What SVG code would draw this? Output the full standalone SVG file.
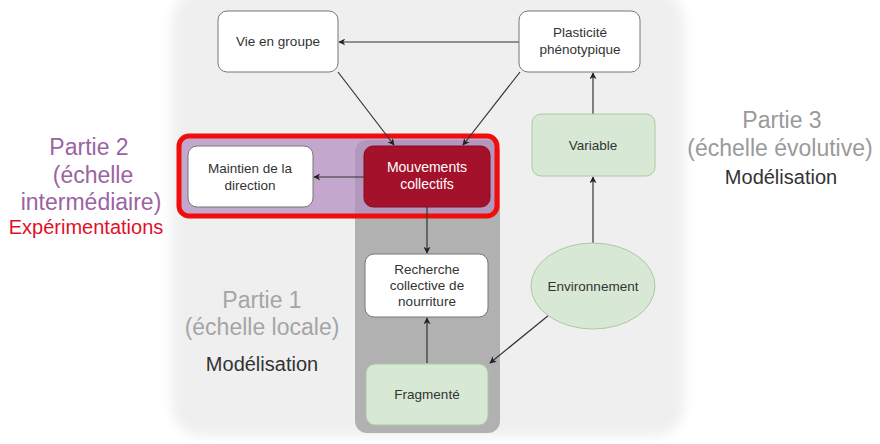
<svg xmlns="http://www.w3.org/2000/svg" width="880" height="444" viewBox="0 0 880 444">
  <defs>
    <filter id="soft" x="-10%" y="-10%" width="120%" height="120%">
      <feGaussianBlur stdDeviation="6"/>
    </filter>
    <marker id="arrow" viewBox="0 0 10 10" refX="9" refY="5" markerWidth="7" markerHeight="7" orient="auto-start-reverse" markerUnits="userSpaceOnUse">
      <path d="M0,0 L10,5 L0,10 L3,5 Z" fill="#222"/>
    </marker>
    <style>
      .box { fill: #ffffff; stroke: #777777; stroke-width: 1; }
      .green { fill: #d7e9d4; stroke: #acc9a2; stroke-width: 1; }
      .red { fill: #a3112b; stroke: #8a0c22; stroke-width: 1; }
      .lbl { font-family: "Liberation Sans", Arial, sans-serif; font-size: 13.5px; fill: #333333; text-anchor: middle; }
      .lblw { font-family: "Liberation Sans", Arial, sans-serif; font-size: 14px; fill: #ffffff; text-anchor: middle; }
      .edge { stroke: #333333; stroke-width: 1.2; fill: none; marker-end: url(#arrow); }
      .part { font-family: "Liberation Sans", Arial, sans-serif; font-size: 23px; text-anchor: middle; }
      .method { font-family: "Liberation Sans", Arial, sans-serif; font-size: 20px; text-anchor: middle; }
    </style>
  </defs>

  <rect width="880" height="444" fill="#ffffff"/>

  <!-- soft backdrop panel -->
  <rect x="172" y="-10" width="512" height="446" rx="30" fill="#efefef" filter="url(#soft)"/>

  <!-- scale bands -->
  <rect id="band-local" x="355" y="140" width="145" height="293" rx="12" fill="#b1b1b1"/>
  <rect id="band-inter" x="179" y="136" width="318" height="80" rx="10" fill="#b48fc0" fill-opacity="0.75" stroke="#f20d0d" stroke-width="5"/>

  <!-- side captions -->
  <g id="caption-partie2">
    <text class="part" x="89" y="155" fill="#9b63a3">Partie 2</text>
    <text class="part" x="93" y="183" fill="#9b63a3">(échelle</text>
    <text class="part" x="91" y="210" fill="#9b63a3">intermédiaire)</text>
    <text class="method" x="86" y="234" fill="#e0102a">Expérimentations</text>
  </g>
  <g id="caption-partie3">
    <text class="part" x="782" y="128" fill="#9a9a9a">Partie 3</text>
    <text class="part" x="780" y="156" fill="#9a9a9a">(échelle évolutive)</text>
    <text class="method" x="781" y="184" fill="#333333">Modélisation</text>
  </g>
  <g id="caption-partie1">
    <text class="part" x="262" y="308" fill="#a5a5a5">Partie 1</text>
    <text class="part" x="262" y="335" fill="#a5a5a5" font-size="24">(échelle locale)</text>
    <text class="method" x="262" y="371" fill="#333333">Modélisation</text>
  </g>

  <!-- connectors -->
  <g id="connectors">
    <line class="edge" x1="519" y1="42" x2="339" y2="42"/>
    <line class="edge" x1="338" y1="72" x2="394" y2="145"/>
    <line class="edge" x1="520" y1="72" x2="463" y2="145"/>
    <line class="edge" x1="364" y1="177" x2="314" y2="177"/>
    <line class="edge" x1="427" y1="207" x2="427" y2="253"/>
    <line class="edge" x1="427" y1="363" x2="427" y2="318"/>
    <line class="edge" x1="549" y1="315" x2="490" y2="363"/>
    <line class="edge" x1="593" y1="243" x2="593" y2="177"/>
    <line class="edge" x1="593" y1="114" x2="593" y2="73"/>
  </g>

  <!-- nodes -->
  <g id="vie-en-groupe">
    <rect class="box" x="218" y="11" width="120" height="61" rx="9"/>
    <text class="lbl" x="278" y="46">Vie en groupe</text>
  </g>
  <g id="plasticite">
    <rect class="box" x="519" y="11" width="121" height="61" rx="9"/>
    <text class="lbl" x="580" y="37">Plasticité</text>
    <text class="lbl" x="580" y="54">phénotypique</text>
  </g>
  <g id="variable">
    <rect class="green" x="532" y="114" width="123" height="62" rx="9"/>
    <text class="lbl" x="593" y="150">Variable</text>
  </g>
  <g id="maintien">
    <rect class="box" x="188" y="146" width="125" height="61" rx="9"/>
    <text class="lbl" x="250" y="173">Maintien de la</text>
    <text class="lbl" x="250" y="190">direction</text>
  </g>
  <g id="mouvements">
    <rect class="red" x="364" y="146" width="126" height="61" rx="9"/>
    <text class="lblw" x="427" y="172">Mouvements</text>
    <text class="lblw" x="427" y="189">collectifs</text>
  </g>
  <g id="recherche">
    <rect class="box" x="365" y="254" width="123" height="63" rx="9"/>
    <text class="lbl" x="427" y="274">Recherche</text>
    <text class="lbl" x="427" y="290">collective de</text>
    <text class="lbl" x="427" y="306">nourriture</text>
  </g>
  <g id="environnement">
    <ellipse class="green" cx="593" cy="286" rx="62" ry="43"/>
    <text class="lbl" x="593" y="291">Environnement</text>
  </g>
  <g id="fragmente">
    <rect class="green" x="366" y="364" width="122" height="61" rx="9"/>
    <text class="lbl" x="427" y="399">Fragmenté</text>
  </g>
</svg>
